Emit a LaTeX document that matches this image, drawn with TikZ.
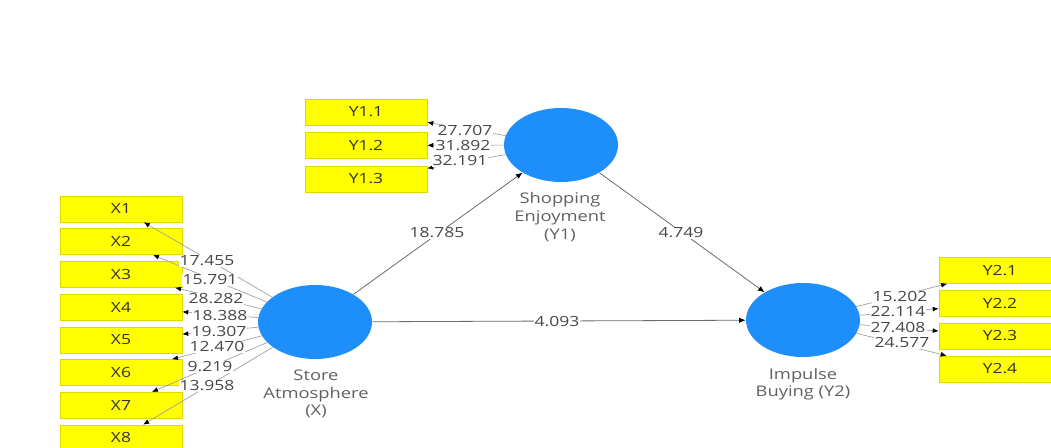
\documentclass[tikz,border=0pt]{standalone}
\usepackage{fontspec}
\setmainfont[FakeStretch=1.25]{Open Sans}
\usetikzlibrary{shapes.geometric,arrows.meta}
\definecolor{lvblue}{RGB}{30,142,250}
\definecolor{indy}{RGB}{255,255,0}
\definecolor{indb}{RGB}{225,215,0}
\begin{document}
\begin{tikzpicture}[x=0.75pt,y=-0.75pt,
  lv/.style={ellipse, fill=lvblue, draw=none, minimum width=85.5pt, minimum height=55.5pt, inner sep=0pt},
  indbox/.style={rectangle, fill=indy, draw=indb, line width=0.4pt, minimum width=91.5pt, minimum height=19.5pt, inner sep=0pt, font=\fontsize{10.5}{12}\selectfont, text=black!80},
  load/.style={draw=gray!75, line width=0.5pt, -{Latex[length=4.5pt,width=3.6pt,color=black]}},
  struct/.style={draw=gray!85!black, line width=0.6pt, -{Latex[length=5pt,width=4pt,color=black]}},
  val/.style={fill=white, inner sep=0.6pt, font=\fontsize{10.5}{12}\selectfont, text=black!72},
  title/.style={align=center, font=\fontsize{11}{13.2}\selectfont, text=black!62}
]
\useasboundingbox (0,0) rectangle (1051,448);
\clip (0,0) rectangle (1051,448);
\fill[white] (0,0) rectangle (1051,448);

% latent variables
\node[lv] (X) at (315,322) {};
\node[lv] (Y1) at (561,145) {};
\node[lv] (Y2) at (803,320) {};

\node[title] (tX) at (316,394) {Store\\Atmosphere\\(X)};
\node[title] (tY1) at (560,217) {Shopping\\Enjoyment\\(Y1)};
\node[title] (tY2) at (803,384) {Impulse\\Buying (Y2)};

% indicators of X
\node[indbox] (x1) at (121,209) {X1};
\node[indbox] (x2) at (121,241.7) {X2};
\node[indbox] (x3) at (121,274.4) {X3};
\node[indbox] (x4) at (121,307.1) {X4};
\node[indbox] (x5) at (121,339.8) {X5};
\node[indbox] (x6) at (121,372.5) {X6};
\node[indbox] (x7) at (121,405.2) {X7};
\node[indbox] (x8) at (121,437.9) {X8};

% indicators of Y1
\node[indbox] (y11) at (366,112) {Y1.1};
\node[indbox] (y12) at (366,145.5) {Y1.2};
\node[indbox] (y13) at (366,179) {Y1.3};

% indicators of Y2
\node[indbox] (y21) at (1000,270.5) {Y2.1};
\node[indbox] (y22) at (1000,303.5) {Y2.2};
\node[indbox] (y23) at (1000,336) {Y2.3};
\node[indbox] (y24) at (1000,369) {Y2.4};

% loadings
\foreach \t in {x1,x2,x3,x4,x5,x6,x7,x8} \draw[load] (X) -- (\t);
\foreach \t in {y11,y12,y13} \draw[load] (Y1) -- (\t);
\foreach \t in {y21,y22,y23,y24} \draw[load] (Y2) -- (\t);

% structural paths
\draw[struct] (X) -- (Y1);
\draw[struct] (Y1) -- (Y2);
\draw[struct] (X) -- (Y2);

% values
\node[val] (vx1) at (207,261) {17.455};
\node[val] (vx2) at (210,280) {15.791};
\node[val] (vx3) at (216,299) {28.282};
\node[val] (vx4) at (220,316) {18.388};
\node[val] (vx5) at (219,332) {19.307};
\node[val] (vx6) at (217,347) {12.470};
\node[val] (vx7) at (210,367) {9.219};
\node[val] (vx8) at (207,386) {13.958};

\node[val] (vy11) at (465,131) {27.707};
\node[val] (vy12) at (463,146) {31.892};
\node[val] (vy13) at (460,161) {32.191};

\node[val] (vy21) at (900,297) {15.202};
\node[val] (vy22) at (898,312) {22.114};
\node[val] (vy23) at (898,328) {27.408};
\node[val] (vy24) at (902,343) {24.577};

\node[val] (vp1) at (437,233) {18.785};
\node[val] (vp2) at (681,233) {4.749};
\node[val] (vp3) at (557,322) {4.093};
\end{tikzpicture}
\end{document}
